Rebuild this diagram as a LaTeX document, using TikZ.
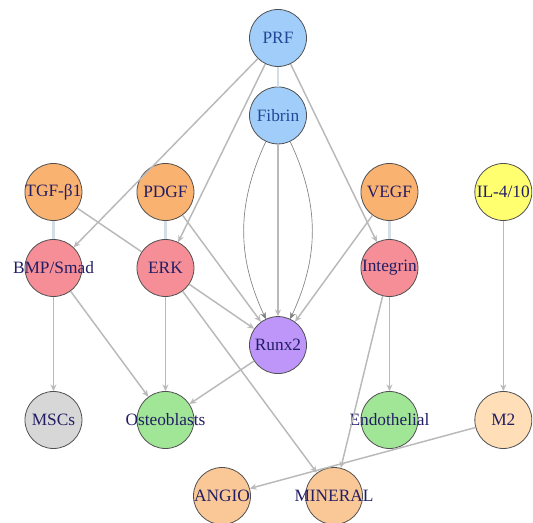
\documentclass[tikz,border=0pt]{standalone}
\usepackage{fontspec}
\setmainfont{Liberation Serif}
\usepackage{tikz}
\definecolor{cblue}{RGB}{160, 205, 250}
\definecolor{corange}{RGB}{250, 178, 112}
\definecolor{cyellow}{RGB}{255, 255, 112}
\definecolor{cpink}{RGB}{245, 142, 150}
\definecolor{cpurple}{RGB}{190, 150, 250}
\definecolor{cgrey}{RGB}{215, 215, 215}
\definecolor{cgreen}{RGB}{160, 230, 150}
\definecolor{cpeach}{RGB}{255, 222, 184}
\definecolor{capricot}{RGB}{250, 200, 150}
\definecolor{cedge}{RGB}{185, 185, 185}
\definecolor{cpale}{RGB}{212, 222, 230}
\definecolor{ccurve}{RGB}{130, 130, 130}
\definecolor{cline}{RGB}{80, 80, 80}
\definecolor{ctext}{RGB}{35, 30, 100}
\definecolor{ctextb}{RGB}{35, 70, 150}
\newcommand{\lbl}[1]{\makebox[0pt]{#1}}
\usetikzlibrary{arrows.meta}
\usetikzlibrary{positioning}

\begin{document}
\begin{tikzpicture}[
  vtx/.style={circle, minimum size=42.75pt, inner sep=0pt, line width=0.6pt, draw=cline, text=ctext, font=\fontsize{13}{15}\selectfont},
  edge/.style={line width=1.1pt, color=cedge, -{Stealth[length=5pt, width=4.5pt]}},
  pale/.style={line width=2pt, color=cpale},
  curve/.style={line width=0.5pt, color=ccurve, -{Stealth[length=5pt, width=4.5pt]}}]
\useasboundingbox (0pt, 0pt) rectangle (399.75pt, -392.25pt);
\node (prf) [vtx, fill=cblue, text=ctextb] at (208.5pt, -28.5pt) {\lbl{PRF}};
\node (fib) [vtx, fill=cblue, text=ctextb] at (208.5pt, -86.6pt) {\lbl{Fibrin}};
\node (tgf) [vtx, fill=corange] at (40.1pt, -144pt) {\lbl{TGF-β1}};
\node (pdgf) [vtx, fill=corange] at (124.1pt, -144pt) {\lbl{PDGF}};
\node (vegf) [vtx, fill=corange] at (292.1pt, -144pt) {\lbl{VEGF}};
\node (il) [vtx, fill=cyellow] at (377.5pt, -144pt) {\lbl{IL-4/10}};
\node (bmp) [vtx, fill=cpink] at (40.1pt, -201pt) {\lbl{BMP/Smad}};
\node (erk) [vtx, fill=cpink] at (124.1pt, -201pt) {\lbl{ERK}};
\node (itg) [vtx, fill=cpink] at (292.1pt, -201pt) {\lbl{Integrin}};
\node (runx) [vtx, fill=cpurple] at (208.5pt, -258.8pt) {\lbl{Runx2}};
\node (msc) [vtx, fill=cgrey] at (40.1pt, -315pt) {\lbl{MSCs}};
\node (ost) [vtx, fill=cgreen] at (124.1pt, -315pt) {\lbl{Osteoblasts}};
\node (endo) [vtx, fill=cgreen] at (292.1pt, -315pt) {\lbl{Endothelial}};
\node (m2) [vtx, fill=cpeach] at (377.5pt, -315pt) {\lbl{M2}};
\node (ang) [vtx, fill=capricot] at (166.5pt, -372pt) {\lbl{ANGIO}};
\node (min) [vtx, fill=capricot] at (250.5pt, -372pt) {\lbl{MINERAL}};
\draw [pale] (prf) to (fib);
\draw [pale] (tgf) to (bmp);
\draw [pale] (pdgf) to (erk);
\draw [pale] (vegf) to (itg);
\draw [edge] (prf) to (bmp);
\draw [edge] (prf) to (erk);
\draw [edge] (prf) to (itg);
\draw [edge] (fib) to (runx);
\draw [curve] (fib) to [bend right=25] (runx);
\draw [curve] (fib) to [bend left=25] (runx);
\draw [edge, -] (tgf) to (erk);
\draw [edge] (pdgf) to (runx);
\draw [edge] (vegf) to (runx);
\draw [edge] (il) to (m2);
\draw [edge] (bmp) to (msc);
\draw [edge] (bmp) to (ost);
\draw [edge] (erk) to (ost);
\draw [edge] (erk) to (runx);
\draw [edge] (erk) to (min);
\draw [edge] (runx) to (ost);
\draw [edge] (itg) to (endo);
\draw [edge] (itg) to (min);
\draw [edge] (m2) to (ang);
\end{tikzpicture}
\end{document}
